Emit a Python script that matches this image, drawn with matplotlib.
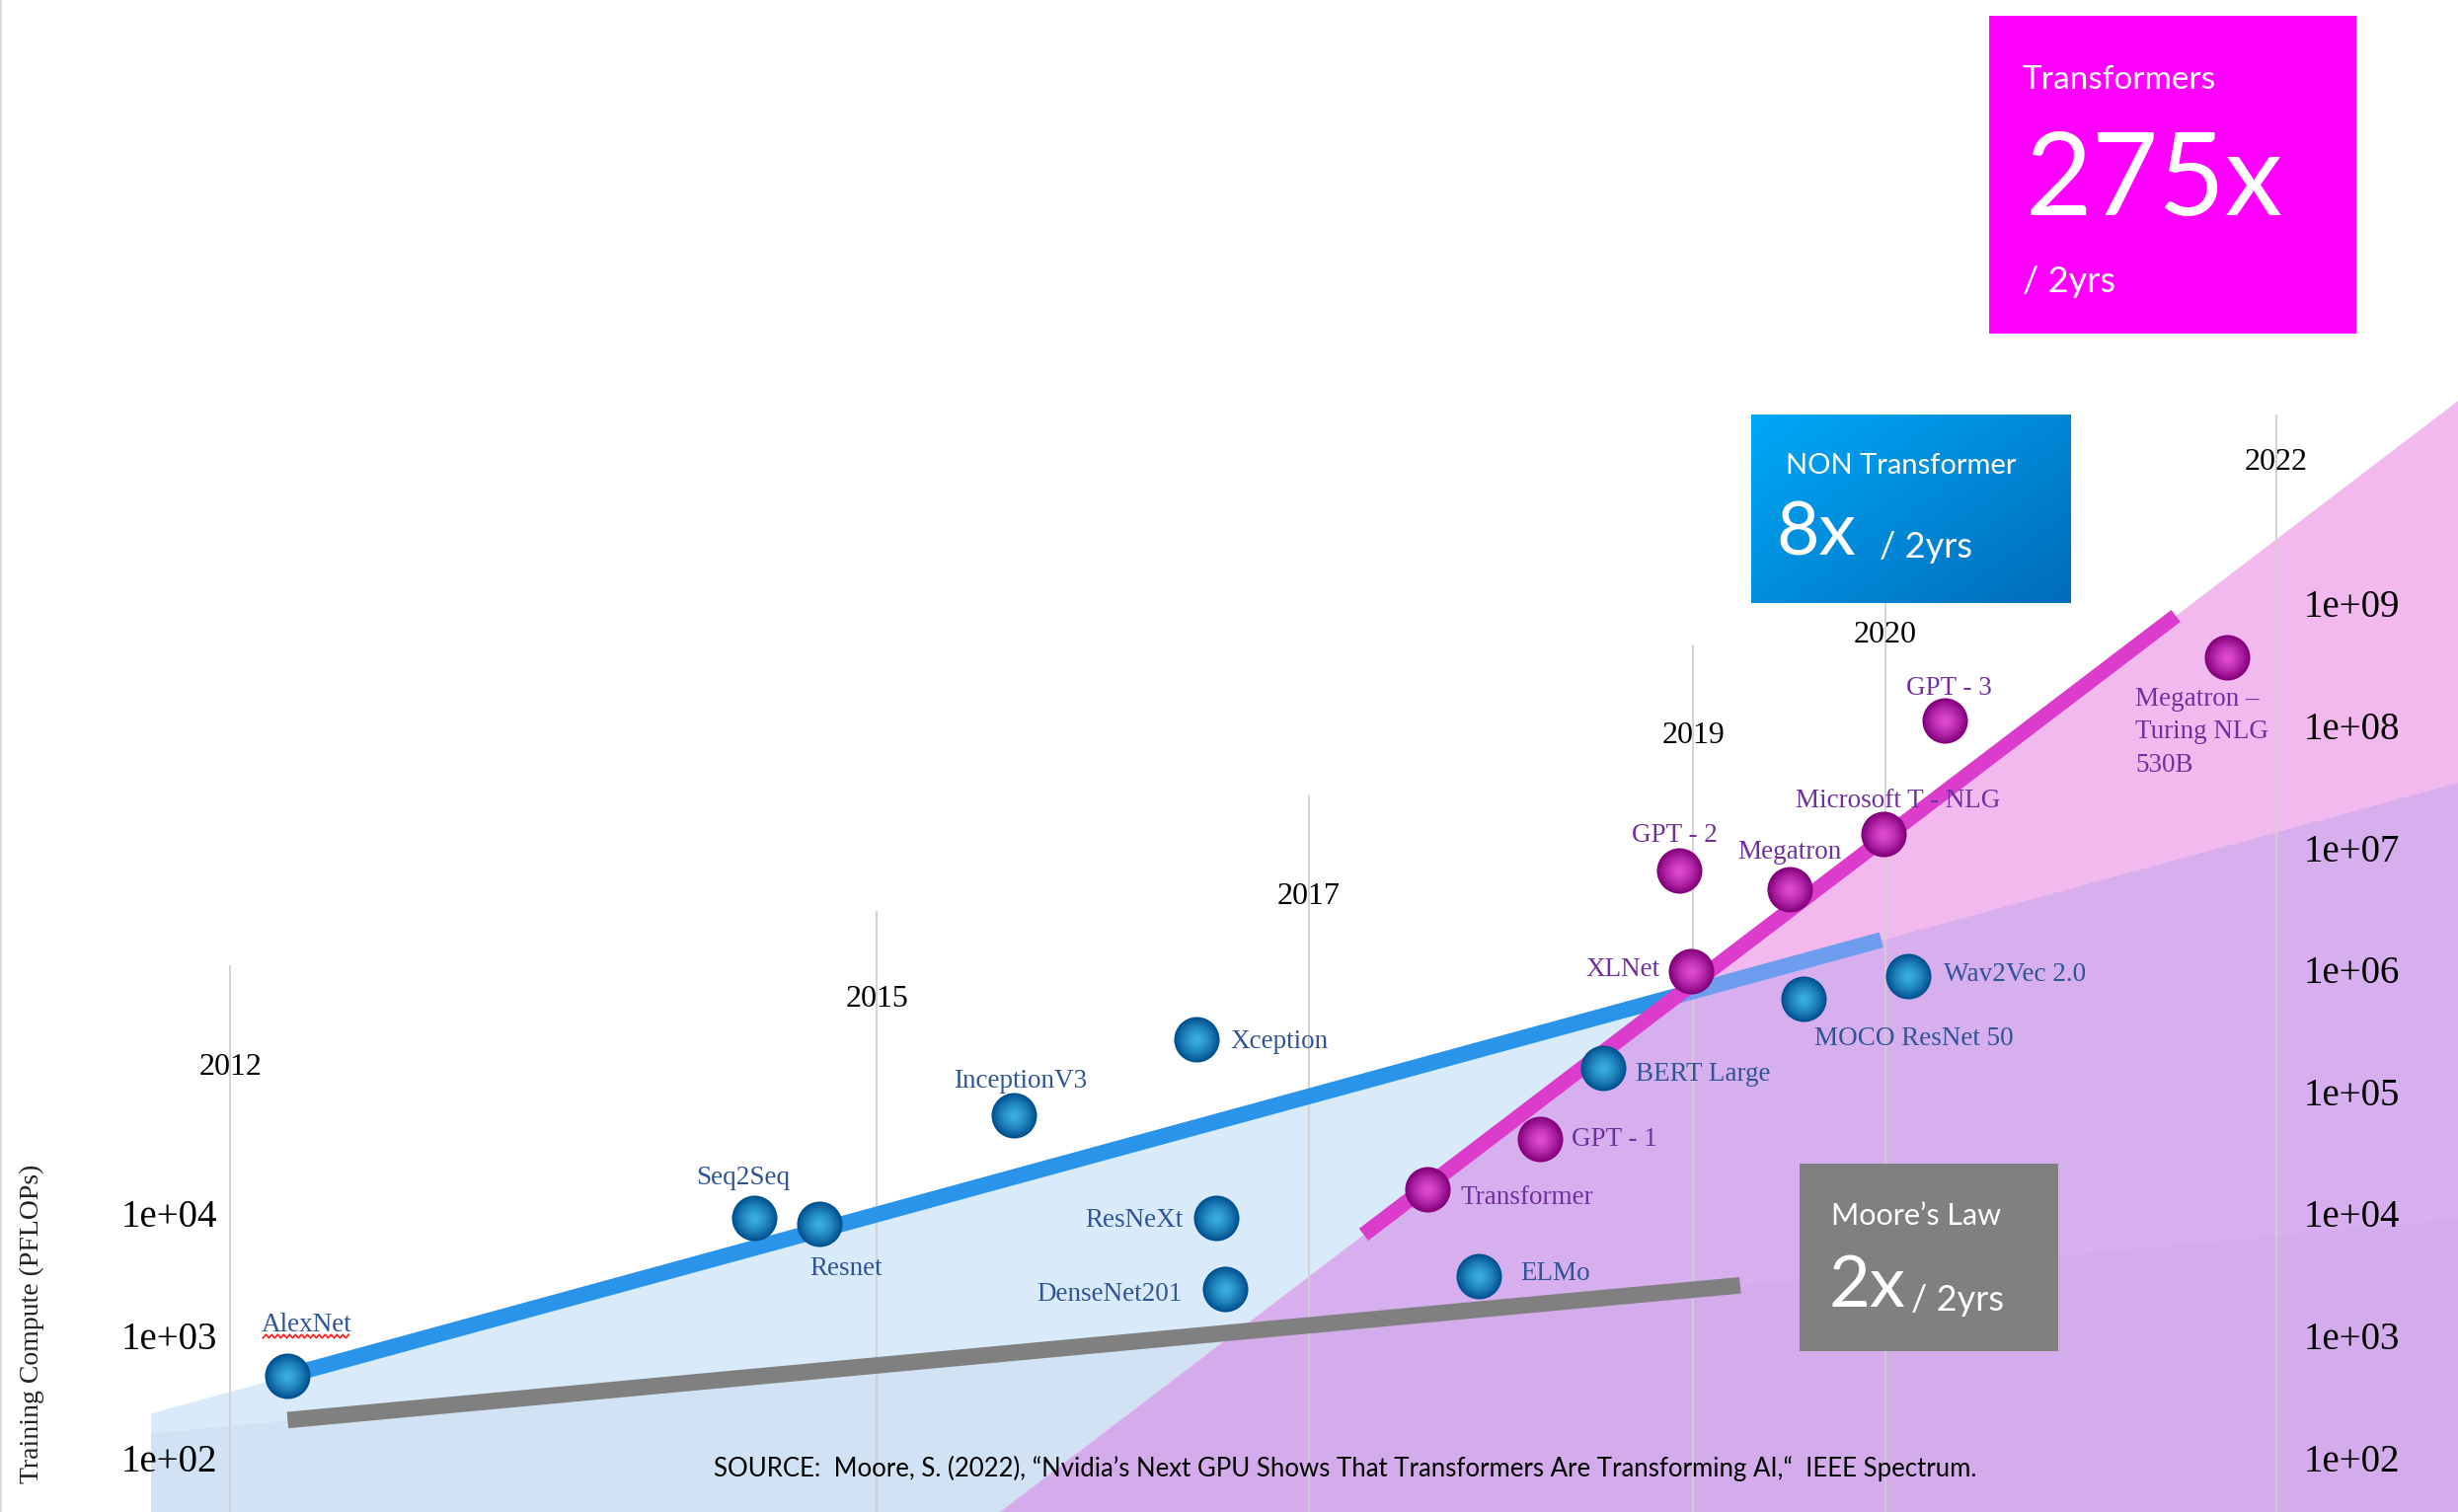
import numpy as np
import matplotlib
matplotlib.use("Agg")
import matplotlib.pyplot as plt
import matplotlib.transforms as mtransforms
from matplotlib.colors import to_rgb
from matplotlib.patches import Rectangle

# ---------------- data ----------------
non_tf_names = ["AlexNet", "Seq2Seq", "Resnet", "InceptionV3", "Xception", "ResNeXt",
                "DenseNet201", "ELMo", "BERT Large", "MOCO ResNet 50", "Wav2Vec 2.0"]
non_tf_year = [2012.28, 2014.56, 2014.88, 2015.83, 2016.72, 2016.82,
               2016.86, 2018.10, 2018.71, 2019.69, 2020.20]
non_tf_pflops = [5.1e2, 1.0e4, 9.0e3, 6.9e4, 2.9e5, 1.0e4,
                 2.6e3, 3.3e3, 1.7e5, 6.2e5, 9.6e5]

tf_names = ["Transformer", "GPT - 1", "GPT - 2", "XLNet", "Megatron",
            "Microsoft T - NLG", "GPT - 3", "Megatron –\nTuring NLG\n530B"]
tf_year = [2017.85, 2018.40, 2019.08, 2019.14, 2019.62, 2020.08, 2020.38, 2021.76]
tf_pflops = [1.7e4, 4.4e4, 7.0e6, 1.05e6, 4.9e6, 1.4e7, 1.2e8, 3.9e8]

trend_non_tf_year = [2012.28, 2020.07]
trend_non_tf_pflops = [5.1e2, 1.9e6]
trend_tf_year = [2017.54, 2021.51]
trend_tf_pflops = [7.3e3, 8.6e8]
trend_moore_year = [2012.28, 2019.38]
trend_moore_pflops = [2.2e2, 2.8e3]

year_labels = ["2012", "2015", "2017", "2019", "2020", "2022"]
year_pos = [2012.0, 2015.16, 2017.27, 2019.15, 2020.09, 2022.0]
year_line_top = [1.15e6, 3.2e6, 2.9e7, 4.9e8, 1.1e9, 3.8e10]
year_label_y = [1.7e5, 6.2e5, 4.3e6, 8.9e7, 6.0e8, 1.56e10]

left_tick_vals = [1e2, 1e3, 1e4]
left_tick_labels = ["1e+02", "1e+03", "1e+04"]
right_tick_vals = [1e2, 1e3, 1e4, 1e5, 1e6, 1e7, 1e8, 1e9]
right_tick_labels = ["1e+02", "1e+03", "1e+04", "1e+05", "1e+06", "1e+07", "1e+08", "1e+09"]

y_title = "Training Compute (PFLOPs)"
source_text = ("SOURCE:  Moore, S. (2022), \u201cNvidia\u2019s Next GPU Shows That Transformers "
               "Are Transforming AI,\u201c  IEEE Spectrum.")

# ---------------- layout / style ----------------
XLIM = (2010.874, 2022.889)
YLIM = (10 ** 1.589, 10 ** 13.983)
REGION_LEFT = 2011.61
LEFT_TICK_X = 2011.70
RIGHT_TICK_X = 2022.37

SERIF = ["Liberation Serif", "DejaVu Serif"]
SANS = ["Lato", "DejaVu Sans"]
BLUE_TXT = "#2f5597"
PURPLE_TXT = "#7030a0"

non_tf_offsets = {
    "AlexNet": ((14, 37), "center"), "Seq2Seq": ((-8, 29), "center"),
    "Resnet": ((19, -33), "center"), "InceptionV3": ((5, 25), "center"),
    "Xception": ((25, -2), "left"), "ResNeXt": ((-24, -2), "right"),
    "DenseNet201": ((-31, -4), "right"), "ELMo": ((31, 2), "left"),
    "BERT Large": ((24, -5), "left"), "MOCO ResNet 50": ((8, -29), "left"),
    "Wav2Vec 2.0": ((26, 1), "left"),
}
tf_offsets = {
    "Transformer": ((24, -6), "left"), "GPT - 1": ((23, 0), "left"),
    "GPT - 2": ((-3, 26), "center"), "XLNet": ((-23, 1), "right"),
    "Megatron": ((0, 27), "center"), "Microsoft T - NLG": ((11, 24), "center"),
    "GPT - 3": ((3, 23), "center"),
}

fig = plt.figure(figsize=(24.9, 15.32), dpi=100)
ax = fig.add_axes([0, 0, 1, 1])
ax.set_yscale("log")
ax.set_xlim(*XLIM)
ax.set_ylim(*YLIM)
ax.axis("off")


def trend_fn(xs, ys):
    lx = np.array(xs, float)
    ly = np.log10(np.array(ys, float))
    slope = (ly[1] - ly[0]) / (lx[1] - lx[0])
    return lambda x: ly[0] + slope * (np.asarray(x) - lx[0]), slope, ly[0] - slope * lx[0]


f_blue, sb, ib = trend_fn(trend_non_tf_year, trend_non_tf_pflops)
f_tf, st, it = trend_fn(trend_tf_year, trend_tf_pflops)
f_moore, sm, im = trend_fn(trend_moore_year, trend_moore_pflops)

xx = np.linspace(REGION_LEFT, XLIM[1] + 0.5, 800)
xx2 = np.linspace(XLIM[0], XLIM[1] + 0.5, 800)
floor = 1.0
ax.fill_between(xx, 10 ** f_blue(xx), floor, color="#d9eafb", lw=0, zorder=0)
ax.fill_between(xx, 10 ** f_moore(xx), floor, color="#1a3550", alpha=0.045, lw=0, zorder=0.05)
ax.fill_between(xx2, 10 ** f_tf(xx2), floor, color="#f2b9ee", lw=0, zorder=0.1)
ax.fill_between(xx, 10 ** np.minimum(f_tf(xx), f_blue(xx)), floor, color="#d7aeee", lw=0, zorder=0.2)
ax.fill_between(xx, 10 ** np.minimum(f_tf(xx), f_moore(xx)), floor, color="#1a3550",
                alpha=0.015, lw=0, zorder=0.3)

# year grid lines
for lab, xp, top, ly in zip(year_labels, year_pos, year_line_top, year_label_y):
    ax.plot([xp, xp], [YLIM[0], top], color="#d0d0d0", lw=1.3, zorder=1)
    ax.text(xp, ly, lab, ha="center", va="center", fontsize=23, family=SERIF, color="black", zorder=6)
ax.plot([XLIM[0] + 0.006, XLIM[0] + 0.006], [YLIM[0], YLIM[1]], color="#d4d4d4", lw=1.2, zorder=1)

# tick labels
for v, t in zip(left_tick_vals, left_tick_labels):
    ax.text(LEFT_TICK_X, v, t, ha="center", va="center", fontsize=28, family=SERIF, zorder=6)
for v, t in zip(right_tick_vals, right_tick_labels):
    ax.text(RIGHT_TICK_X, v, t, ha="center", va="center", fontsize=28, family=SERIF, zorder=6)

ax.text(2011.03, 10 ** 3.13, y_title, rotation=90, ha="center", va="center",
        fontsize=20, family=SERIF, color="#222222", zorder=6)

# trend lines
x_cross = (it - ib) / (sb - st)
bx0, bx1 = trend_non_tf_year
ax.plot([bx0, x_cross], [10 ** f_blue(bx0), 10 ** f_blue(x_cross)], color="#2a93ea", lw=11.5,
        solid_capstyle="butt", zorder=3)
ax.plot([x_cross, bx1], [10 ** f_blue(x_cross), 10 ** f_blue(bx1)], color="#6e9df0", lw=11.5,
        solid_capstyle="butt", zorder=3)
ax.plot(trend_tf_year, trend_tf_pflops, color="#dc3ccc", lw=11, solid_capstyle="butt", zorder=3.5)
ax.plot(trend_moore_year, trend_moore_pflops, color="#808080", lw=12, solid_capstyle="butt", zorder=3)


def spheres(xs, ys, edge, center, size=1100, n=18):
    e = np.array(to_rgb(edge))
    c = np.array(to_rgb(center))
    for k in range(n):
        r = 1.0 - 0.9 * k / (n - 1)
        col = c + (e - c) * r ** 1.4
        ax.scatter(xs, ys, s=size * r ** 2, color=col, linewidths=0, zorder=5 + k * 0.001)


spheres(non_tf_year, non_tf_pflops, "#00508f", "#3cb0e2")
spheres(tf_year, tf_pflops, "#82007a", "#e24bd6")

for name, x, y in zip(non_tf_names, non_tf_year, non_tf_pflops):
    off, ha = non_tf_offsets[name]
    ax.annotate(name, (x, y), xytext=off, textcoords="offset points", ha=ha, va="center",
                fontsize=19.5, family=SERIF, color=BLUE_TXT, zorder=6)
for name, x, y in zip(tf_names, tf_year, tf_pflops):
    if name in tf_offsets:
        off, ha = tf_offsets[name]
        ax.annotate(name, (x, y), xytext=off, textcoords="offset points", ha=ha, va="center",
                    fontsize=19.5, family=SERIF, color=PURPLE_TXT, zorder=6)
    else:
        ax.annotate(name, (x, y), xytext=(-67, -21), textcoords="offset points", ha="left",
                    va="top", fontsize=19.5, family=SERIF, color=PURPLE_TXT, linespacing=1.45,
                    zorder=6)

# red wavy spell-check underline beneath the "AlexNet" label
fig.canvas.draw()
ax_x, ax_y = ax.transData.transform((non_tf_year[0], non_tf_pflops[0]))
wx = np.arange(-25, 63, 3.0)
wy = np.where(np.arange(len(wx)) % 2 == 0, 0.0, 3.5)
ax.plot(ax_x + wx, ax_y + 38 + wy, color="#ff1a1a", lw=1.2,
        transform=mtransforms.IdentityTransform(), zorder=6)

# ---------------- overlay boxes ----------------
ov = fig.add_axes([0, 0, 1, 1], zorder=10)
ov.set_xlim(0, 1)
ov.set_ylim(0, 1)
ov.axis("off")
ov.patch.set_alpha(0)

ov.add_patch(Rectangle((0.8093, 0.7793), 0.1492, 0.2103, color="#ff00ff", lw=0))
ov.text(0.8227, 0.9472, "Transformers", color="white", fontsize=24, family=SANS, va="center")
ov.text(0.8240, 0.8788, "275x", color="white", fontsize=84, family=SANS, va="center")
ov.text(0.8227, 0.8135, "/ 2yrs", color="white", fontsize=26, family=SANS, va="center")

gx, gy = np.meshgrid(np.linspace(0, 1, 200), np.linspace(0, 1, 120))
t = np.clip((gx * 0.55 + gy * 0.45), 0, 1)[..., None]
top = np.array([0, 168, 248]) / 255.0
bot = np.array([0, 108, 186]) / 255.0
img = top + (bot - top) * t
ov.imshow(img, extent=[0.7124, 0.8425, 0.6010, 0.7254], origin="upper", aspect="auto",
          interpolation="bilinear", zorder=1)
ov.set_xlim(0, 1)
ov.set_ylim(0, 1)
ov.text(0.7264, 0.6922, "NON Transformer", color="white", fontsize=21, family=SANS, va="center", zorder=2)
ov.text(0.7225, 0.6466, "8x", color="white", fontsize=54, family=SANS, va="center", zorder=2)
ov.text(0.7647, 0.6383, "/ 2yrs", color="white", fontsize=26, family=SANS, va="center", zorder=2)

ov.add_patch(Rectangle((0.7321, 0.1067), 0.1053, 0.1234, color="#808080", lw=0))
ov.text(0.7449, 0.1959, "Moore\u2019s Law", color="white", fontsize=22, family=SANS, va="center")
ov.text(0.7440, 0.1492, "2x", color="white", fontsize=52, family=SANS, va="center")
ov.text(0.7774, 0.1400, "/ 2yrs", color="white", fontsize=26, family=SANS, va="center")

ov.text(0.5472, 0.0290, source_text, ha="center", va="center", fontsize=18.5, family=SANS, color="black")

fig.savefig("out.png", dpi=100)
